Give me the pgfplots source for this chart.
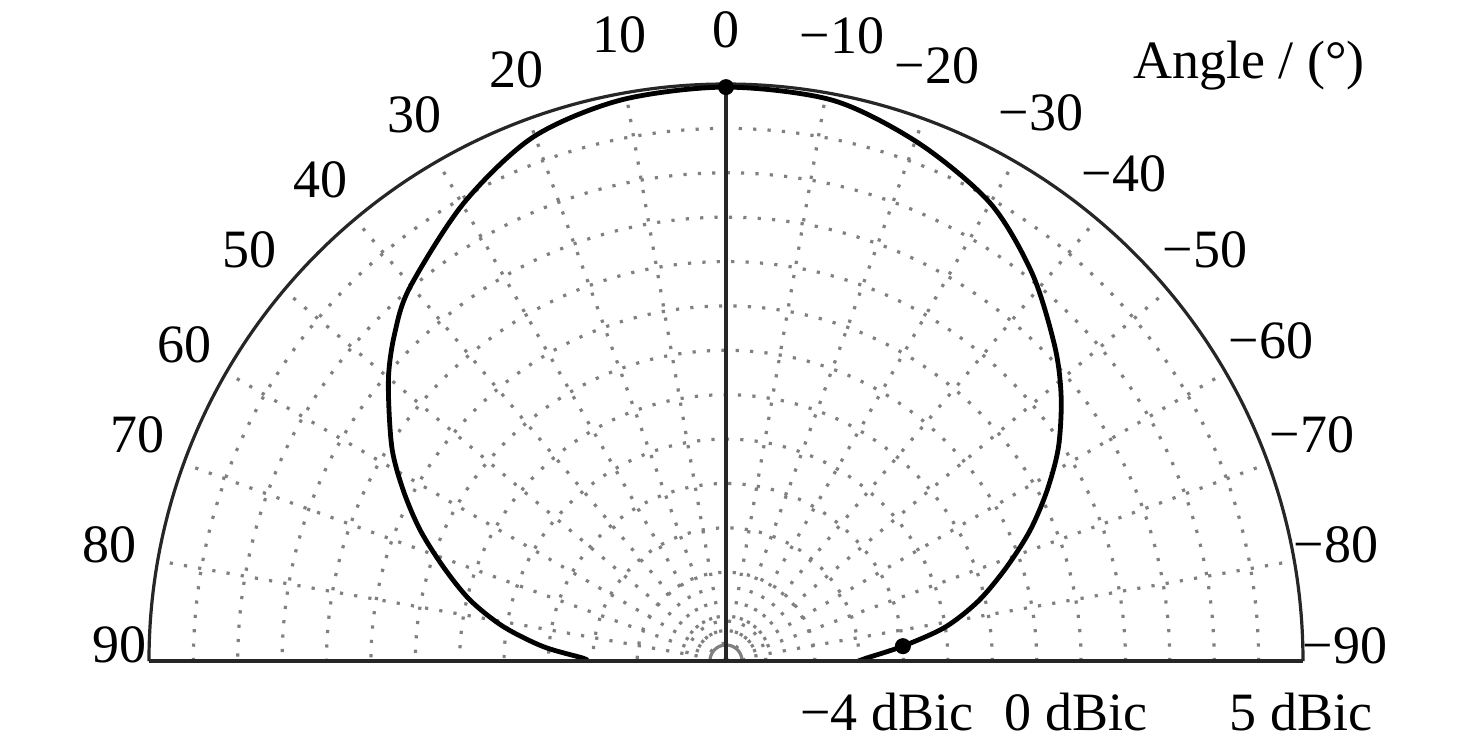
\documentclass[border=0pt]{standalone}
\usepackage{fontspec}
\setmainfont{Liberation Serif}
\usepackage{pgfplots}
\pgfplotsset{compat=1.18}
\usepgfplotslibrary{polar}
\begin{document}
\begin{tikzpicture}
\fontsize{13.5}{16}\selectfont
\useasboundingbox (-181.5pt,-20.5pt) rectangle (187.5pt,165.25pt);
\begin{polaraxis}[
  at={(0pt,0pt)}, anchor=origin,
  scale only axis, width=288.5pt, height=288.5pt,
  xmin=0, xmax=180, ymin=0, ymax=13,
  xtick={0,10,...,180}, ytick={2,...,12},
  xticklabels={}, yticklabels={},
  extra y ticks={0.4,0.9}, extra y tick labels={},
  extra y tick style={grid style={solid, draw=black!45, line width=0.6pt}},
  grid=major,
  major grid style={draw=black!50, line width=0.8pt, dash pattern=on 0.8pt off 2.8pt},
  major tick length=0pt,
  axis line style={line width=0.8pt, black!85},
  clip=false,
]
% angle in degrees (0 = top, positive to the left), gain in dBic
\addplot[black, line width=1.2pt, smooth, x filter/.expression={x+90}, y filter/.expression={y+8}] coordinates {
(-90,-5.00) (-88.9,-4.85) (-85.2,-4.00) (-81.2,-3.00) (-76.6,-2.15) (-71.6,-1.35)
(-66.8,-0.55) (-62.1,0.18) (-57.3,0.90) (-51.8,1.61) (-46.3,2.25) (-38.3,3.13)
(-30.0,3.91) (-20.4,4.45) (-10.8,4.86) (0,4.93) (10.6,4.86) (20.2,4.58)
(29.8,3.89) (40.2,3.03) (45.3,2.50) (50.2,1.90) (57.3,0.95) (62.1,0.23) (66.8,-0.50)
(71.6,-1.29) (76.6,-2.07) (81.2,-2.92) (85.5,-3.87) (88.9,-4.79) (90,-4.85)
};
\addplot[only marks, mark=*, mark size=1.8pt, black, x filter/.expression={x+90}, y filter/.expression={y+8}] coordinates {(0,4.93) (-85.2,-4.00)};
\draw[line width=0.8pt, black!85] (axis cs:90,0) -- (axis cs:90,13);
\draw[line width=1pt, black!85] (axis cs:0,13) -- (axis cs:180,13);
\end{polaraxis}
\node at (-151.5pt,4pt) {90};
\node at (-154pt,29pt) {80};
\node at (-147pt,56.5pt) {70};
\node at (-135.25pt,79pt) {60};
\node at (-119pt,102.75pt) {50};
\node at (-101.25pt,120.25pt) {40};
\node at (-77.75pt,136.5pt) {30};
\node at (-52.5pt,147.75pt) {20};
\node at (-26.75pt,156.5pt) {10};
\node at (0pt,157.75pt) {0};
\node at (29pt,156.25pt) {−10};
\node at (52.75pt,148.75pt) {−20};
\node at (78.75pt,137pt) {−30};
\node at (99.5pt,121.75pt) {−40};
\node at (119.75pt,102.75pt) {−50};
\node at (136.25pt,80pt) {−60};
\node at (146.5pt,56.5pt) {−70};
\node at (152.5pt,29pt) {−80};
\node at (154.75pt,3.75pt) {−90};
\node at (130.75pt,148.75pt) {Angle / (°)};
\node at (40.25pt,-12.75pt) {−4 dBic};
\node at (87.5pt,-12.75pt) {0 dBic};
\node at (143.75pt,-12.75pt) {5 dBic};
\end{tikzpicture}
\end{document}
